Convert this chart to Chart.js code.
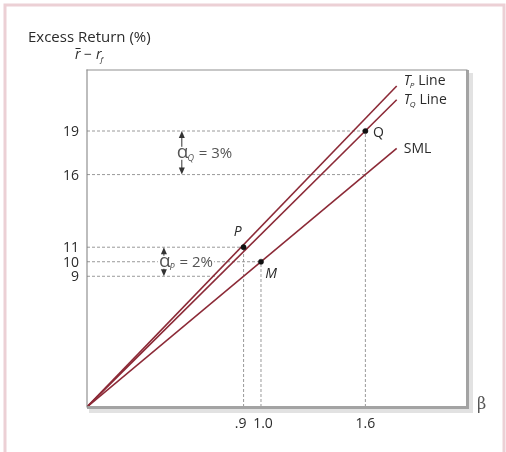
<!DOCTYPE html>
<html><head><meta charset="utf-8">
<script src="https://cdn.jsdelivr.net/npm/chart.js@4/dist/chart.umd.min.js"></script>
<style>html,body{margin:0;padding:0;background:#fff;}canvas{display:block;}</style>
</head><body>
<canvas id="c" width="506" height="452"></canvas>
<script>
// ---- data ----
const betaTicks = [0.9, 1.0, 1.6];
const betaTickLabels = ['.9', '1.0', '1.6'];
const returnTicks = [9, 10, 11, 16, 19];
const returnTickLabels = ['9', '10', '11', '16', '19'];
const portfolioNames = ['P', 'M', 'Q'];
const portfolioBeta = [0.9, 1.0, 1.6];
const portfolioReturn = [11, 10, 19];
const lineNames = ['P', 'Q', 'SML'];
const lineStartBeta = [0, 0, 0];
const lineStartReturn = [0, 0, 0];
const lineEndBeta = [1.78, 1.78, 1.78];
const lineEndReturn = [22.1, 21.15, 17.8];
const hGuideReturn = [19, 16, 11, 10, 9];
const hGuideToBeta = [1.6, 1.6, 0.9, 1.0, 0.75];
const vGuideBeta = [0.9, 1.0, 1.6];
const vGuideToReturn = [11, 10, 19];
const alphaNames = ['Q', 'P'];
const alphaValues = ['3%', '2%'];
const alphaTop = [19, 11];
const alphaBottom = [16, 9];
const alphaArrowBeta = [0.545, 0.442];
const betaMax = 2.184;
const returnMax = 23.2;

const RED = '#8c2a37';
const GUIDE = '#9a9a9a';
const FONT = '"Open Sans", "Noto Sans", sans-serif';

const datasets = [];
portfolioNames.forEach((n, i) => {
  datasets.push({ label: 'pt ' + n, data: [{x: portfolioBeta[i], y: portfolioReturn[i]}],
    pointRadius: 2.6, pointBackgroundColor: '#111', pointBorderColor: '#111', pointBorderWidth: 0.5, showLine: false, order: 0 });
});
lineNames.forEach((n, i) => {
  datasets.push({ label: 'line ' + n, data: [{x: lineStartBeta[i], y: lineStartReturn[i]}, {x: lineEndBeta[i], y: lineEndReturn[i]}],
    showLine: true, borderColor: RED, borderWidth: 1.6, pointRadius: 0, order: 1 });
});
hGuideReturn.forEach((r, i) => {
  datasets.push({ label: 'hg' + i, data: [{x: 0, y: r}, {x: hGuideToBeta[i], y: r}],
    showLine: true, borderColor: GUIDE, borderWidth: 1, borderDash: [3, 2], pointRadius: 0, order: 2 });
});
vGuideBeta.forEach((b, i) => {
  datasets.push({ label: 'vg' + i, data: [{x: b, y: 0}, {x: b, y: vGuideToReturn[i]}],
    showLine: true, borderColor: GUIDE, borderWidth: 1, borderDash: [3, 2], pointRadius: 0, order: 2 });
});

function italicSub(ctx, x, y, main, sub, size, mainItalic) {
  ctx.font = (mainItalic ? 'italic ' : '') + size + 'px ' + FONT;
  ctx.fillText(main, x, y);
  const w = ctx.measureText(main).width;
  ctx.font = 'italic ' + Math.round(size * 0.6) + 'px ' + FONT;
  ctx.fillText(sub, x + w - 1, y + 3);
  return w + ctx.measureText(sub).width - 1;
}

const decor = {
  id: 'decor',
  beforeDraw(chart) {
    const ctx = chart.ctx;
    ctx.save();
    ctx.fillStyle = '#fff';
    ctx.fillRect(0, 0, chart.width, chart.height);
    ctx.strokeStyle = '#ecd0d5';
    ctx.lineWidth = 3;
    ctx.strokeRect(5, 5, 499, 460);
    ctx.restore();
  },
  afterDatasetsDraw(chart) {
    const ctx = chart.ctx;
    const xs = chart.scales.x, ys = chart.scales.y;
    const a = chart.chartArea;
    ctx.save();
    // frame + shadow
    ctx.fillStyle = '#e2e2e2';
    ctx.fillRect(a.left + 2, a.bottom + 1, a.right - a.left + 4, 5);
    ctx.fillRect(a.right + 1, a.top + 3, 5, a.bottom - a.top + 3);
    ctx.fillStyle = '#a3a3a3';
    ctx.fillRect(a.left, a.bottom - 1, a.right - a.left + 2, 3);
    ctx.fillRect(a.right - 1, a.top, 3, a.bottom - a.top + 2);
    ctx.fillStyle = '#7c7c7c';
    ctx.fillRect(a.left - 0.5, a.top - 0.5, 1, a.bottom - a.top + 1);
    ctx.fillStyle = '#8f8f8f';
    ctx.fillRect(a.left - 0.5, a.top - 0.5, a.right - a.left + 1, 1);

    // tick labels
    ctx.fillStyle = '#2b2b2b';
    ctx.font = '14px ' + FONT;
    ctx.textAlign = 'right'; ctx.textBaseline = 'middle';
    returnTicks.forEach((r, i) => ctx.fillText(returnTickLabels[i], a.left - 8, ys.getPixelForValue(r) + 1));
    ctx.textAlign = 'center'; ctx.textBaseline = 'middle';
    const tickShift = [-3, 2, 0];
    betaTicks.forEach((b, i) => ctx.fillText(betaTickLabels[i], xs.getPixelForValue(b) + tickShift[i], a.bottom + 17));

    // axis titles
    ctx.textAlign = 'left'; ctx.textBaseline = 'alphabetic';
    ctx.font = '15px ' + FONT;
    ctx.fillText('Excess Return (%)', 28, 42);
    ctx.font = 'italic 14px ' + FONT;
    ctx.fillText('r', 75, 59);
    ctx.fillRect(75.5, 48, 5, 1);
    ctx.font = '14px ' + FONT;
    ctx.fillText('\u2212', 84, 59);
    italicSub(ctx, 96, 59, 'r', 'f', 14, true);
    ctx.fillStyle = '#555';
    ctx.font = '16px "DejaVu Serif", "Liberation Serif", serif';
    ctx.fillText('\u03b2', a.right + 10, a.bottom + 2);

    // line labels
    ctx.fillStyle = '#2b2b2b';
    const lx = xs.getPixelForValue(lineEndBeta[0]) + 7;
    let w = italicSub(ctx, lx, ys.getPixelForValue(lineEndReturn[0]) - 1, 'T', 'P', 14, true);
    ctx.font = '14px ' + FONT;
    ctx.fillText('Line', lx + w + 4, ys.getPixelForValue(lineEndReturn[0]) - 1);
    w = italicSub(ctx, lx, ys.getPixelForValue(lineEndReturn[1]) + 4, 'T', 'Q', 14, true);
    ctx.font = '14px ' + FONT;
    ctx.fillText('Line', lx + w + 4, ys.getPixelForValue(lineEndReturn[1]) + 4);
    ctx.fillText('SML', lx, ys.getPixelForValue(lineEndReturn[2]) + 5);

    // point labels
    const offs = {P: [-6, -11], M: [10, 16], Q: [13, 6]};
    portfolioNames.forEach((n, i) => {
      const px = xs.getPixelForValue(portfolioBeta[i]), py = ys.getPixelForValue(portfolioReturn[i]);
      ctx.font = (n === 'Q' ? '' : 'italic ') + '14px ' + FONT;
      ctx.textAlign = 'center'; ctx.textBaseline = 'alphabetic';
      ctx.fillText(n, px + offs[n][0], py + offs[n][1]);
    });

    // alpha arrows
    ctx.textAlign = 'left';
    alphaNames.forEach((n, i) => {
      const x = xs.getPixelForValue(alphaArrowBeta[i]);
      const yt = ys.getPixelForValue(alphaTop[i]), yb = ys.getPixelForValue(alphaBottom[i]);
      ctx.strokeStyle = '#333'; ctx.fillStyle = '#333'; ctx.lineWidth = 1;
      ctx.beginPath(); ctx.moveTo(x, yt + 4); ctx.lineTo(x, yb - 4); ctx.stroke();
      ctx.beginPath(); ctx.moveTo(x, yt); ctx.lineTo(x - 3, yt + 7); ctx.lineTo(x + 3, yt + 7); ctx.closePath(); ctx.fill();
      ctx.beginPath(); ctx.moveTo(x, yb); ctx.lineTo(x - 3, yb - 7); ctx.lineTo(x + 3, yb - 7); ctx.closePath(); ctx.fill();
      const ym = (yt + yb) / 2 + 5;
      const tx = x - 5;
      ctx.font = '19px ' + FONT;
      const aw = ctx.measureText('\u03b1').width;
      ctx.font = 'italic 9px ' + FONT;
      const sw = ctx.measureText(n).width;
      ctx.font = '15px ' + FONT;
      const rest = ' = ' + alphaValues[i];
      const rw = ctx.measureText(rest).width;
      ctx.fillStyle = '#fff';
      ctx.fillRect(tx - 1, ym - 11, aw + sw + rw + 2, 13);
      ctx.fillStyle = '#555';
      ctx.font = '19px ' + FONT;
      ctx.fillText('\u03b1', tx, ym);
      ctx.font = 'italic 9px ' + FONT;
      ctx.fillText(n, tx + aw - 1, ym + 3);
      ctx.font = '15px ' + FONT;
      ctx.fillText(rest, tx + aw + sw, ym);
    });
    ctx.restore();
  }
};

new Chart(document.getElementById('c'), {
  type: 'scatter',
  data: { datasets },
  options: {
    responsive: false, animation: false, devicePixelRatio: 1,
    layout: { padding: { left: 87, top: 70, right: 39, bottom: 45 } },
    plugins: { legend: { display: false }, tooltip: { enabled: false } },
    scales: {
      x: { type: 'linear', min: 0, max: betaMax, display: false },
      y: { type: 'linear', min: 0, max: returnMax, display: false }
    }
  },
  plugins: [decor]
});
</script>
</body></html>
